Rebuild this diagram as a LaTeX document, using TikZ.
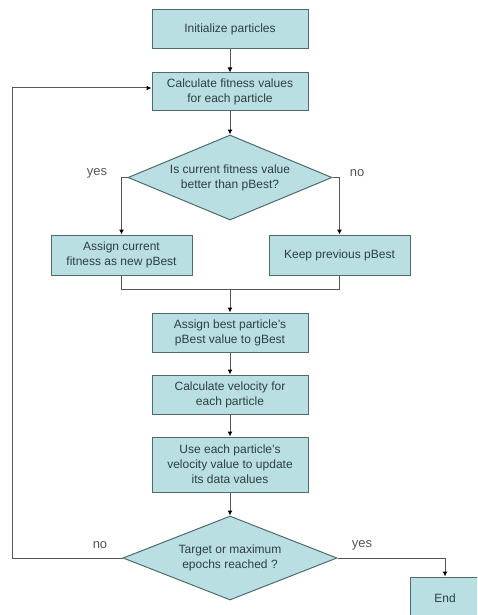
\documentclass[tikz,border=0pt]{standalone}
\usepackage{fontspec}
\setmainfont{Liberation Sans}
\usetikzlibrary{shapes.geometric,arrows.meta}
\definecolor{boxfill}{HTML}{B9DFE3}
\definecolor{boxline}{HTML}{4F6B6B}
\definecolor{txt}{HTML}{2E3F40}
\definecolor{conn}{HTML}{555555}
\tikzset{
  stepbox/.style={draw=boxline, fill=boxfill, line width=1pt, rectangle, minimum width=156pt, inner sep=0pt, align=center, text=txt, font=\fontsize{12}{15}\selectfont},
  decbox/.style={draw=boxline, fill=boxfill, line width=1pt, diamond, aspect=2.4, inner sep=0pt, align=center, text=txt, font=\fontsize{12}{15}\selectfont},
  flow/.style={draw=conn, line width=1pt, -{Latex[length=5pt,width=5pt,color=black]}},
  plain/.style={draw=conn, line width=1pt},
  lbl/.style={text=conn, font=\fontsize{13}{15}\selectfont, inner sep=0pt}
}
\begin{document}
\begin{tikzpicture}[x=1pt,y=-1pt]
\useasboundingbox (0,0) rectangle (477,615);
\begin{scope}
\clip (0,0) rectangle (477,615);
\node[stepbox, minimum height=39pt] (init) at (230,29.5) {Initialize particles};
\node[stepbox, minimum height=38pt] (calc) at (230,92) {Calculate fitness values\\for each particle};
\node[decbox, minimum width=204pt, minimum height=85pt] (dec1) at (230,177.5) {Is current fitness value\\better than pBest?};
\node[stepbox, minimum width=141pt, minimum height=40pt] (assign) at (121.5,255) {Assign current\\fitness as new pBest};
\node[stepbox, minimum width=141pt, minimum height=40pt] (keep) at (339.5,255) {Keep previous pBest};
\coordinate (merge) at (230,289);
\node[stepbox, minimum height=39pt] (gbest) at (230,332.5) {Assign best particle's\\pBest value to gBest};
\node[stepbox, minimum height=39pt] (vel) at (230,394.5) {Calculate velocity for\\each particle};
\node[stepbox, minimum height=55pt] (upd) at (230,464.5) {Use each particle's\\velocity value to update\\its data values};
\node[decbox, minimum width=214pt, minimum height=84pt] (dec2) at (230,558) {Target or maximum\\epochs reached ?};
\node[stepbox, minimum width=70pt, minimum height=43pt] (end) at (445,598.5) {End};

\draw[flow] (init) -- (calc);
\draw[flow] (calc) -- (dec1);
\draw[flow] (dec1.west) -| (assign.north);
\draw[flow] (dec1.east) -| (keep.north);
\draw[plain] (assign.south) |- (merge);
\draw[plain] (keep.south) |- (merge);
\draw[flow] (merge) -- (gbest);
\draw[flow] (gbest) -- (vel);
\draw[flow] (vel) -- (upd);
\draw[flow] (upd) -- (dec2);
\coordinate (loopbot) at (12,558);
\coordinate (looptop) at (12,88);
\draw[flow] (dec2.west) -- (loopbot) -- (looptop) -- (calc.west |- looptop);
\draw[flow] (dec2.east) -| (end.north);

\node[lbl] (yes1) at (97,173) {yes};
\node[lbl] (no1) at (357,173) {no};
\node[lbl] (no2) at (100,545) {no};
\node[lbl] (yes2) at (362,545) {yes};
\end{scope}
\end{tikzpicture}
\end{document}
